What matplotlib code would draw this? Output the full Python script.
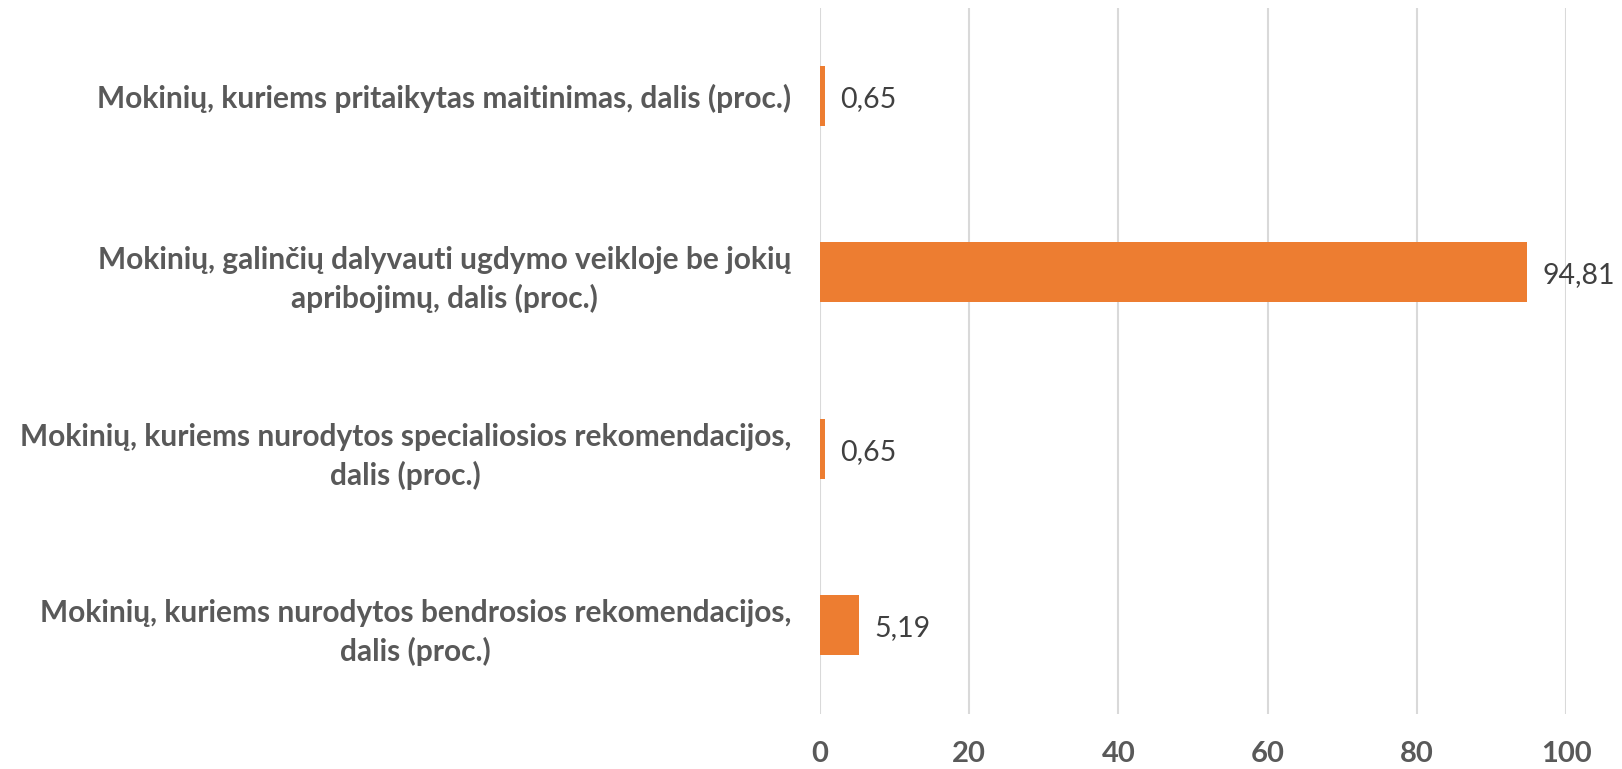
import matplotlib
matplotlib.use("Agg")
import matplotlib.pyplot as plt

categories = [
    "Mokinių, kuriems nurodytos bendrosios rekomendacijos,\ndalis (proc.)",
    "Mokinių, kuriems nurodytos specialiosios rekomendacijos,\ndalis (proc.)",
    "Mokinių, galinčių dalyvauti ugdymo veikloje be jokių\napribojimų, dalis (proc.)",
    "Mokinių, kuriems pritaikytas maitinimas, dalis (proc.)",
]
values = [5.19, 0.65, 94.81, 0.65]
value_labels = ["5,19", "0,65", "94,81", "0,65"]
xticks = [0, 20, 40, 60, 80, 100]

plt.rcParams['font.family'] = ['Lato', 'DejaVu Sans']

fig = plt.figure(figsize=(16.22, 7.69), dpi=100)
ax = fig.add_axes([0.5056, 0.072, 0.4599, 0.918])

y = list(range(len(categories)))
ax.barh(y, values, height=0.34, color="#ED7D31", zorder=3)
ax.set_xlim(0, 100)
ax.set_ylim(-0.5, len(categories) - 0.5)
ax.set_xticks(xticks)
ax.set_xticklabels([str(t) for t in xticks], fontsize=21, fontweight='bold', color="#595959")
ax.set_yticks(y)
ax.set_yticklabels(categories, fontsize=21.5, fontweight='bold', color="#595959",
                   multialignment='center', linespacing=1.4)
ax.tick_params(axis='y', length=0, pad=21)
ax.tick_params(axis='x', length=0, pad=20)
ax.grid(axis='x', color="#D9D9D9", linewidth=1.5, zorder=0)
for s in ax.spines.values():
    s.set_visible(False)

for yi, v, lab in zip(y, values, value_labels):
    ax.annotate(lab, (v, yi), xytext=(11, -2), textcoords='offset points',
                va='center', ha='left', fontsize=20.5, color="#404040")

fig.savefig("out.png", dpi=100)
